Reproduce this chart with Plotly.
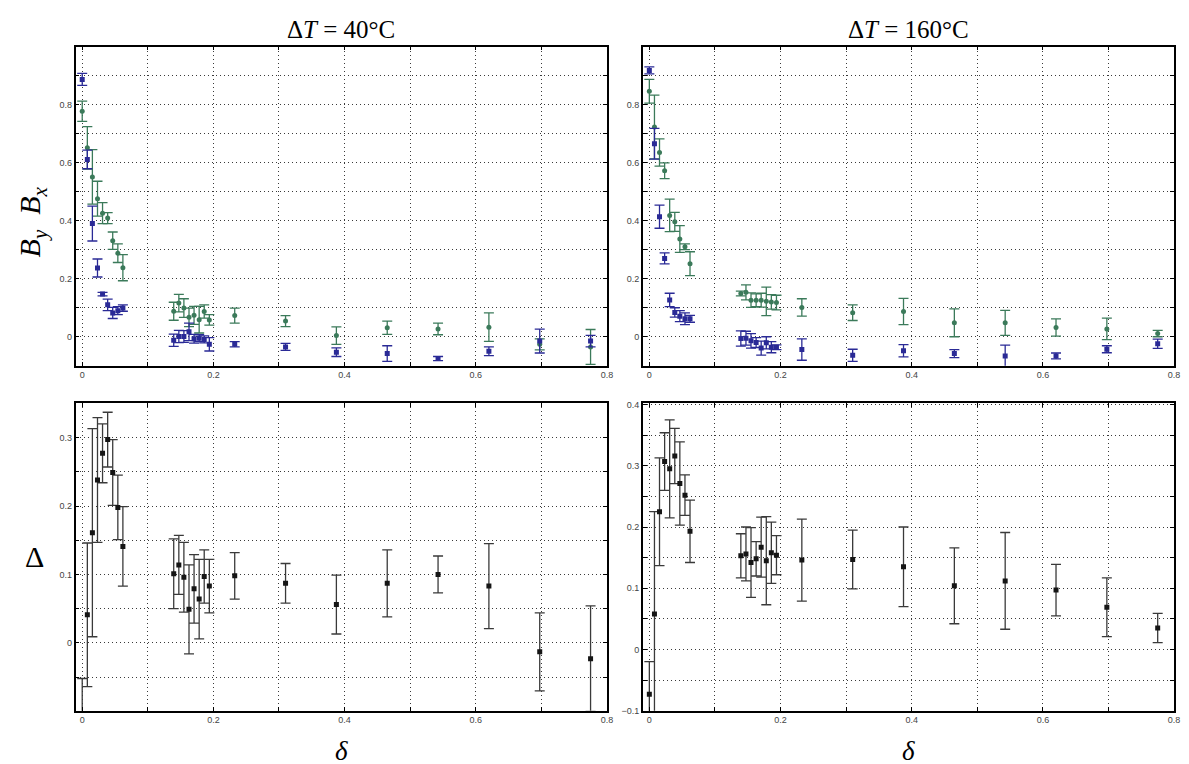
import plotly.graph_objects as go

# ---------------- data ----------------
delta = [0.0, 0.0078, 0.0155, 0.0233, 0.031, 0.0388, 0.0465, 0.0543, 0.062,
         0.1395, 0.1473, 0.155, 0.1628, 0.1705, 0.1783, 0.186, 0.1938,
         0.2325, 0.31, 0.3875, 0.465, 0.5425, 0.62, 0.6975, 0.775]

# dT = 40 C
by40 = [0.777, 0.651, 0.551, 0.476, 0.426, 0.409, 0.331, 0.288, 0.238,
        0.088, 0.116, 0.099, 0.067, 0.074, 0.059, 0.087, 0.058,
        0.073, 0.054, 0.004, 0.031, 0.027, 0.033, -0.026, -0.035]
by40_err = [0.035, 0.073, 0.094, 0.06, 0.036, 0.019, 0.03, 0.032, 0.045,
            0.031, 0.03, 0.032, 0.032, 0.031, 0.046, 0.023, 0.018,
            0.026, 0.019, 0.03, 0.023, 0.02, 0.049, 0.019, 0.06]
bx40 = [0.887, 0.611, 0.39, 0.237, 0.147, 0.11, 0.082, 0.09, 0.099,
        -0.012, 0.001, 0.001, 0.017, -0.007, -0.005, -0.009, -0.026,
        -0.026, -0.035, -0.053, -0.058, -0.075, -0.05, -0.015, -0.015]
bx40_err = [0.021, 0.032, 0.06, 0.031, 0.006, 0.02, 0.019, 0.014, 0.011,
            0.021, 0.021, 0.02, 0.03, 0.015, 0.012, 0.012, 0.023,
            0.009, 0.012, 0.015, 0.027, 0.007, 0.015, 0.041, 0.02]
d40 = [-0.12, 0.041, 0.161, 0.238, 0.277, 0.297, 0.249, 0.198, 0.141,
       0.101, 0.114, 0.096, 0.049, 0.079, 0.064, 0.097, 0.083,
       0.098, 0.087, 0.056, 0.087, 0.1, 0.083, -0.013, -0.023]
d40_err = [0.068, 0.105, 0.152, 0.091, 0.043, 0.04, 0.048, 0.047, 0.058,
           0.051, 0.043, 0.051, 0.065, 0.05, 0.058, 0.039, 0.039,
           0.034, 0.029, 0.043, 0.049, 0.027, 0.062, 0.057, 0.077]

# dT = 160 C
by160 = [0.846, 0.723, 0.635, 0.572, 0.418, 0.396, 0.337, 0.31, 0.252,
         0.149, 0.153, 0.126, 0.126, 0.126, 0.122, 0.12, 0.118,
         0.101, 0.083, 0.087, 0.048, 0.048, 0.032, 0.027, 0.011]
by160_err = [0.041, 0.11, 0.047, 0.027, 0.056, 0.033, 0.046, 0.01, 0.041,
             0.008, 0.026, 0.025, 0.022, 0.024, 0.049, 0.025, 0.025,
             0.03, 0.027, 0.045, 0.048, 0.043, 0.03, 0.037, 0.011]
bx160 = [0.918, 0.665, 0.414, 0.27, 0.127, 0.084, 0.071, 0.062, 0.062,
         -0.006, -0.005, -0.014, -0.02, -0.039, -0.021, -0.036, -0.036,
         -0.044, -0.064, -0.048, -0.058, -0.066, -0.066, -0.043, -0.024]
bx160_err = [0.012, 0.053, 0.04, 0.019, 0.023, 0.016, 0.019, 0.02, 0.012,
             0.026, 0.024, 0.025, 0.017, 0.024, 0.021, 0.019, 0.008,
             0.037, 0.021, 0.021, 0.014, 0.037, 0.01, 0.012, 0.016]
d160 = [-0.073, 0.058, 0.225, 0.307, 0.295, 0.316, 0.271, 0.252, 0.193,
        0.153, 0.156, 0.142, 0.148, 0.167, 0.145, 0.158, 0.154,
        0.146, 0.147, 0.135, 0.104, 0.112, 0.097, 0.069, 0.035]
d160_err = [0.053, 0.167, 0.088, 0.047, 0.08, 0.045, 0.068, 0.033, 0.051,
            0.036, 0.044, 0.057, 0.028, 0.049, 0.072, 0.05, 0.032,
            0.067, 0.048, 0.065, 0.062, 0.079, 0.042, 0.048, 0.024]

# tick positions / labels
x_major = [0, 0.2, 0.4, 0.6, 0.8]
x_major_text = ["0", "0.2", "0.4", "0.6", "0.8"]
x_minor = [0.1, 0.3, 0.5, 0.7]
top_major = [0, 0.2, 0.4, 0.6, 0.8]
top_major_text = ["0", "0.2", "0.4", "0.6", "0.8"]
top_minor = [0.1, 0.3, 0.5, 0.7, 0.9]
bl_major = [0, 0.1, 0.2, 0.3]
bl_major_text = ["0", "0.1", "0.2", "0.3"]
bl_minor = [-0.05, 0.05, 0.15, 0.25]
br_major = [-0.1, 0, 0.1, 0.2, 0.3, 0.4]
br_major_text = ["\u22120.1", "0", "0.1", "0.2", "0.3", "0.4"]
br_minor = [-0.05, 0.05, 0.15, 0.25, 0.35]

# ---------------- styling ----------------
W, H = 1189, 764
GREEN = "#3b7a5a"
BLUE = "#2a2a96"
BLACK = "#151515"
GRID = "#3a3a3a"
DOT = "1px,3px"


def dom_x(a, b):
    return [a / W, b / W]


def dom_y(top, bottom):
    return [1 - bottom / H, 1 - top / H]


fig = go.Figure()


def add(xa, ya, y, err, color, symbol, ecolor):
    fig.add_trace(go.Scatter(
        x=delta, y=y, mode="markers", xaxis=xa, yaxis=ya,
        marker=dict(color=color, symbol=symbol, size=5),
        error_y=dict(type="data", array=err, visible=True,
                     color=ecolor, thickness=1.3, width=5),
        showlegend=False))


add("x", "y", by40, by40_err, GREEN, "circle", GREEN)
add("x", "y", bx40, bx40_err, BLUE, "square", BLUE)
add("x2", "y2", by160, by160_err, GREEN, "circle", GREEN)
add("x2", "y2", bx160, bx160_err, BLUE, "square", BLUE)
add("x3", "y3", d40, d40_err, BLACK, "square", "#3a3a3a")
add("x4", "y4", d160, d160_err, BLACK, "square", "#3a3a3a")

tickfont = dict(family="Liberation Sans, Arial, sans-serif", size=9, color="#444")
common = dict(showline=True, linecolor="black", linewidth=1.5, mirror="ticks",
              ticks="inside", ticklen=4, tickcolor="black", tickwidth=1,
              showgrid=True, gridcolor=GRID, griddash=DOT, gridwidth=1,
              zeroline=False, tickfont=tickfont)


def minor(vals):
    return dict(tickmode="array", tickvals=vals, ticks="inside", ticklen=4,
                tickcolor="black", tickwidth=1, showgrid=True,
                gridcolor=GRID, griddash=DOT, gridwidth=1)


def xax(a, b, anchor):
    return dict(domain=dom_x(a, b), range=[-0.01, 0.8], tickmode="array",
                tickvals=x_major, ticktext=x_major_text, minor=minor(x_minor),
                anchor=anchor, **common)


def yax(top, bottom, anchor, rng, tv, tt, mv):
    return dict(domain=dom_y(top, bottom), range=rng, tickmode="array",
                tickvals=tv, ticktext=tt, minor=minor(mv), anchor=anchor, **common)


fig.update_layout(
    width=W, height=H,
    margin=dict(l=0, r=0, t=0, b=0),
    paper_bgcolor="white", plot_bgcolor="white",
    xaxis=xax(68, 602, "y"),
    yaxis=yax(35, 358, "x", [-0.1, 1.0], top_major, top_major_text, top_minor),
    xaxis2=xax(638, 1172, "y2"),
    yaxis2=yax(35, 358, "x2", [-0.1, 1.0], top_major, top_major_text, top_minor),
    xaxis3=xax(68, 602, "y3"),
    yaxis3=yax(396, 707, "x3", [-0.099, 0.35], bl_major, bl_major_text, bl_minor),
    xaxis4=xax(638, 1172, "y4"),
    yaxis4=yax(396, 707, "x4", [-0.1, 0.402], br_major, br_major_text, br_minor),
)

serif = "Liberation Serif, DejaVu Serif, serif"


def ann(text, px, py, size, angle=0):
    fig.add_annotation(text=text, x=px / W, y=1 - py / H, xref="paper", yref="paper",
                       showarrow=False, textangle=angle,
                       font=dict(family=serif, size=size, color="black"),
                       xanchor="center", yanchor="middle")


ann("\u0394<i>T</i> = 40\u00b0C", 335, 18, 25)
ann("\u0394<i>T</i> = 160\u00b0C", 905, 18, 25)
ann("<i>B<sub>y</sub></i>  <i>B<sub>x</sub></i>", 24, 212, 30, -90)
ann("\u0394", 27, 551, 30)
ann("<i>\u03b4</i>", 335, 748, 27)
ann("<i>\u03b4</i>", 905, 748, 27)

fig.write_html("out.html")
